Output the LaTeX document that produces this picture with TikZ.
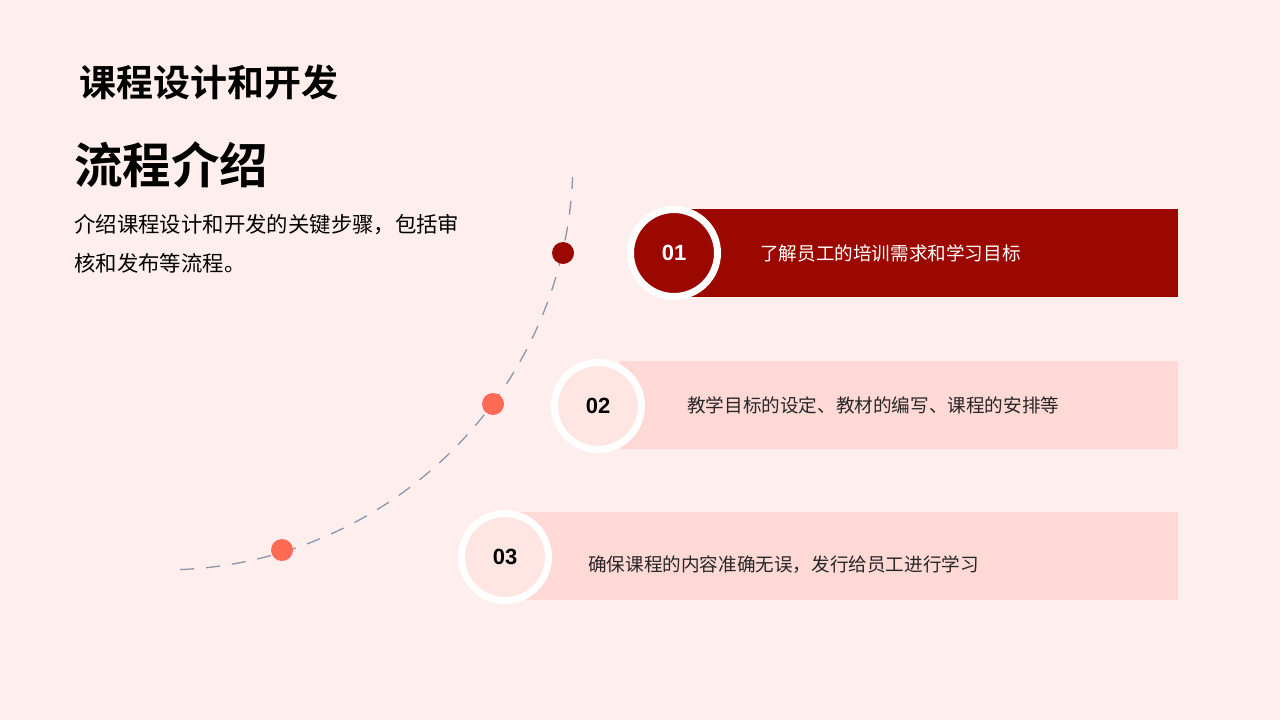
\documentclass[tikz,border=0pt]{standalone}
\usepackage{fontspec}
\setmainfont{Liberation Sans}
\newfontfamily\cjk{Noto Sans CJK SC}
\newfontfamily\cjkb{Noto Sans CJK SC Bold}
\definecolor{bgc}{HTML}{FFEEEE}
\definecolor{darkred}{HTML}{9A0800}
\definecolor{lightbar}{HTML}{FFD9D6}
\definecolor{lightcirc}{HTML}{FFE6E3}
\definecolor{coral}{HTML}{FF6A55}
\definecolor{arcgray}{HTML}{8C96A8}
\begin{document}
\begin{tikzpicture}[x=1pt,y=-1pt,
  ring/.style={circle,draw=white,line width=7pt,minimum size=87pt,inner sep=0pt,font=\bfseries\fontsize{22}{22}\selectfont},
  dot/.style={circle,fill=#1,minimum size=22pt,inner sep=0pt},
  bartext/.style={anchor=west,inner sep=0pt,font=\cjk\fontsize{18.6}{18.6}\selectfont}]
\fill[bgc] (0,0) rectangle (1280,720);
\useasboundingbox (0,0) rectangle (1280,720);
% arc
\draw[arcgray,line width=1.3pt,dash pattern=on 14pt off 12pt] plot[smooth,domain=87.6:2.4,samples=120] ({163+410*cos(\x)},{160+410*sin(\x)});
% bars
\fill[darkred] (690,209) rectangle (1178,297);
\fill[lightbar] (620,361) rectangle (1178,449);
\fill[lightbar] (520,512) rectangle (1178,600);
% circles
\node[ring,fill=darkred,text=white] (c1) at (674,253) {01};
\node[ring,fill=lightcirc,text=black] (c2) at (598,406) {02};
\node[ring,fill=lightcirc,text=black] (c3) at (505,557) {03};
% dots
\node[dot=darkred] (d1) at (563,253) {};
\node[dot=coral] (d2) at (493,404) {};
\node[dot=coral] (d3) at (282,550) {};
% bar texts
\node[bartext,text=white] (t1) at (760,253) {了解员工的培训需求和学习目标};
\node[bartext,text=black!85] (t2) at (687,405) {教学目标的设定、教材的编写、课程的安排等};
\node[bartext,text=black!85] (t3) at (588,565) {确保课程的内容准确无误，发行给员工进行学习};
% titles
\node[anchor=west,inner sep=0pt,font=\cjkb\fontsize{37}{37}\selectfont] (title) at (79,82) {课程设计和开发};
\node[anchor=west,inner sep=0pt,font=\cjkb\fontsize{48.5}{48.5}\selectfont] (sub) at (74,165) {流程介绍};
\node[anchor=north west,inner sep=0pt,align=left,font=\cjk\fontsize{21.4}{39}\selectfont] (body) at (74,214) {介绍课程设计和开发的关键步骤，包括审\\核和发布等流程。};
\end{tikzpicture}
\end{document}
